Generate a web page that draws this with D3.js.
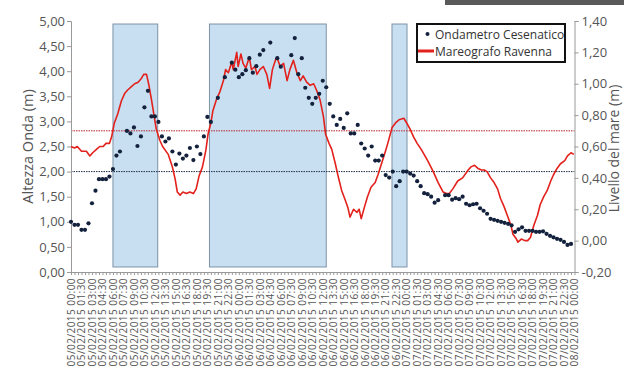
<!DOCTYPE html>
<html><head><meta charset="utf-8">
<script src="https://cdn.jsdelivr.net/npm/d3@7"></script>
<style>
body{margin:0;background:#fff}
svg{display:block}
text{font-family:"Open Sans",sans-serif}
</style>
</head><body>
<svg id="c" width="624" height="377"></svg>
<script>
// ---- data ----
// Ondametro Cesenatico: wave height (m), every 30 minutes from 05/02/2015 00:00 (null = missing)
const waveHeight = [
 1.00,0.94,0.94,0.84,0.84,0.97,1.37,1.62,1.85,1.85,1.85,1.90,2.05,2.32,2.40,null,
 2.81,2.76,2.88,2.51,2.70,3.28,3.61,3.10,3.10,2.99,2.70,2.60,2.66,2.40,2.14,2.36,
 2.26,2.32,2.47,2.23,2.50,2.35,2.70,3.09,2.99,null,3.47,null,3.88,null,4.17,4.03,
 3.88,3.94,4.02,4.26,3.97,4.10,4.33,4.42,null,4.57,null,4.26,4.09,null,null,4.32,
 4.66,3.94,4.26,3.67,3.47,3.35,3.47,3.55,3.81,3.68,3.35,3.10,2.93,3.05,2.87,3.16,
 2.76,2.76,2.93,2.56,2.46,2.32,2.50,2.22,2.22,2.32,1.93,1.88,2.00,1.71,1.81,2.00,
 2.00,1.96,1.92,1.81,1.71,1.57,1.55,1.50,1.38,1.43,null,1.53,1.53,1.44,1.47,1.45,
 1.50,1.36,1.33,1.35,1.36,1.27,1.22,1.16,1.06,1.04,1.02,1.00,0.98,0.96,0.93,0.80,
 0.85,0.89,0.82,0.82,0.82,0.80,0.80,0.81,0.76,0.72,0.69,0.66,0.64,0.60,0.54,0.56
];
// Mareografo Ravenna: sea level (m), hours since 05/02/2015 00:00
const seaHours = [
 0.0,0.5,0.9,1.5,2.2,2.7,3.1,3.6,4.1,4.6,5.0,5.5,5.8,6.2,6.7,7.2,7.7,8.1,8.6,9.1,9.6,10.0,10.4,10.8,11.1,11.5,11.9,12.2,12.7,13.1,13.9,
 14.5,14.9,15.2,15.6,16.0,16.5,17.0,17.5,17.9,18.3,18.8,19.3,19.6,20.0,20.3,20.8,21.3,21.8,22.1,22.5,23.0,23.2,23.7,23.9,24.3,24.6,
 25.0,25.5,25.8,26.3,26.6,27.0,27.5,28.0,28.4,28.8,29.3,29.6,29.9,30.4,30.9,31.3,31.8,32.3,32.8,33.2,33.7,34.2,34.7,35.1,35.6,36.1,
 36.4,36.9,37.3,37.8,38.2,38.7,39.2,39.6,39.9,40.4,40.9,41.2,41.5,42.0,42.4,42.9,43.5,43.9,44.4,44.9,45.3,45.9,46.4,46.9,47.6,48.0,
 48.5,49.0,49.5,50.1,51.0,51.8,52.5,53.2,53.7,54.1,54.6,55.3,56.0,56.8,57.2,57.7,58.2,58.7,59.1,59.5,60.0,60.5,61.0,61.4,61.9,62.4,
 62.9,63.2,63.7,63.9,64.4,64.9,65.3,65.7,66.2,66.7,67.1,67.6,68.1,68.6,69.0,69.5,70.0,70.6,71.0,71.5,71.9
];
const seaLevel = [
 0.60,0.59,0.60,0.57,0.57,0.54,0.56,0.58,0.60,0.60,0.62,0.62,0.66,0.75,0.81,0.89,0.94,0.96,0.98,1.00,1.01,1.03,1.06,1.06,1.00,0.90,0.79,0.71,0.64,0.60,0.55,
 0.47,0.39,0.31,0.29,0.31,0.30,0.31,0.30,0.33,0.41,0.47,0.58,0.68,0.75,0.83,0.90,0.95,1.02,1.09,1.07,1.14,1.09,1.20,1.11,1.19,1.13,
 1.10,1.17,1.09,1.11,1.06,1.09,1.11,1.06,0.97,1.09,1.16,1.15,1.11,1.13,1.02,1.09,1.15,1.07,1.02,1.05,1.01,0.99,1.00,0.96,0.90,0.79,
 0.68,0.62,0.58,0.49,0.41,0.32,0.26,0.21,0.15,0.20,0.18,0.20,0.14,0.22,0.28,0.34,0.37,0.42,0.49,0.56,0.62,0.72,0.75,0.77,0.78,0.75,
 0.71,0.66,0.62,0.58,0.51,0.44,0.37,0.31,0.30,0.30,0.33,0.38,0.40,0.45,0.47,0.48,0.46,0.45,0.45,0.44,0.40,0.37,0.33,0.27,0.22,0.16,
 0.10,0.04,0.01,-0.01,0.01,0.00,0.00,0.02,0.10,0.16,0.23,0.28,0.32,0.38,0.42,0.46,0.49,0.51,0.54,0.56,0.55
];
// highlighted periods (hours since 05/02/2015 00:00)
const periodStart = [6.0, 19.8, 45.9];
const periodEnd   = [12.4, 36.5, 48.05];
const waveThreshold = 2.00;   // m, left axis
const seaThreshold  = 0.70;   // m, right axis
const leftTicks  = [0,0.5,1,1.5,2,2.5,3,3.5,4,4.5,5];
const rightTicks = [-0.2,0,0.2,0.4,0.6,0.8,1.0,1.2,1.4];
const xTickLabels = [
 "05/02/2015 00:00","05/02/2015 01:30","05/02/2015 03:00","05/02/2015 04:30","05/02/2015 06:00","05/02/2015 07:30",
 "05/02/2015 09:00","05/02/2015 10:30","05/02/2015 12:00","05/02/2015 13:30","05/02/2015 15:00","05/02/2015 16:30",
 "05/02/2015 18:00","05/02/2015 19:30","05/02/2015 21:00","05/02/2015 22:30","06/02/2015 00:00","06/02/2015 01:30",
 "06/02/2015 03:00","06/02/2015 04:30","06/02/2015 06:00","06/02/2015 07:30","06/02/2015 09:00","06/02/2015 10:30",
 "06/02/2015 12:00","06/02/2015 13:30","06/02/2015 15:00","06/02/2015 16:30","06/02/2015 18:00","06/02/2015 19:30",
 "06/02/2015 21:00","06/02/2015 22:30","07/02/2015 00:00","07/02/2015 01:30","07/02/2015 03:00","07/02/2015 04:30",
 "07/02/2015 06:00","07/02/2015 07:30","07/02/2015 09:00","07/02/2015 10:30","07/02/2015 12:00","07/02/2015 13:30",
 "07/02/2015 15:00","07/02/2015 16:30","07/02/2015 18:00","07/02/2015 19:30","07/02/2015 21:00","07/02/2015 22:30",
 "08/02/2015 00:00"
];
const seriesNames = ["Ondametro Cesenatico","Mareografo Ravenna"];
const leftTitle = "Altezza Onda (m)";
const rightTitle = "Livello del mare (m)";

// ---- drawing ----
const svg = d3.select("#c");
const L = 71, R = 574.5, T = 21, B = 272;
const x = d3.scaleLinear().domain([0,72]).range([L,R]);
const yL = d3.scaleLinear().domain([0,5]).range([B,T]);
const yR = d3.scaleLinear().domain([-0.2,1.4]).range([B,T]);
const it = d3.formatLocale({decimal:",",thousands:".",grouping:[3],currency:["€",""],minus:"-"});
const fmt = it.format(".2f");

// photo artefact band at top-right
svg.append("rect").attr("x",445).attr("y",0).attr("width",179).attr("height",5).attr("fill","#5a5a5a");

// periods
svg.append("g").selectAll("rect").data(periodStart).join("rect")
  .attr("x",(d)=>x(d)).attr("width",(d,i)=>x(periodEnd[i])-x(d))
  .attr("y",yL(4.94)).attr("height",yL(0.1)-yL(4.94))
  .attr("fill","#c8dff1").attr("stroke","#7d93a8").attr("stroke-width",1);

// threshold lines
svg.append("line").attr("x1",L).attr("x2",R).attr("y1",yR(seaThreshold)).attr("y2",yR(seaThreshold))
  .attr("stroke","#b8232a").attr("stroke-width",1).attr("stroke-dasharray","1.5,1");
svg.append("line").attr("x1",L).attr("x2",R).attr("y1",yL(waveThreshold)).attr("y2",yL(waveThreshold))
  .attr("stroke","#1c2b4a").attr("stroke-width",1).attr("stroke-dasharray","1.5,1");

// axes
const axCol = "#999";
const gl = svg.append("g").attr("transform",`translate(${L},0)`)
  .call(d3.axisLeft(yL).tickValues(leftTicks).tickFormat(fmt).tickSize(4).tickPadding(2));
const gr = svg.append("g").attr("transform",`translate(${R},0)`)
  .call(d3.axisRight(yR).tickValues(rightTicks).tickFormat(fmt).tickSize(4).tickPadding(3));
const halfHours = d3.range(0,72.01,0.5);
const gb = svg.append("g").attr("transform",`translate(0,${B})`)
  .call(d3.axisBottom(x).tickValues(halfHours).tickFormat("").tickSize(3).tickSizeOuter(0));
[gl,gr,gb].forEach(g=>{
  g.select(".domain").attr("stroke",axCol);
  g.selectAll(".tick line").attr("stroke",axCol);
  g.selectAll(".tick text").attr("fill","#555").style("font-family","'Open Sans',sans-serif").style("font-size","13px");
});

// x labels
svg.append("g").selectAll("text").data(xTickLabels).join("text")
  .attr("transform",(d,i)=>`translate(${x(i*1.5)+3.8},${B+6}) rotate(-90)`)
  .attr("text-anchor","end").attr("fill","#555")
  .style("font-size","10px").style("letter-spacing","0.45px")
  .text(d=>d);

// axis titles
svg.append("text").attr("transform",`translate(33,${(T+B)/2}) rotate(-90)`)
  .attr("text-anchor","middle").attr("fill","#555").style("font-size","14.5px").text(leftTitle);
svg.append("text").attr("transform",`translate(619,${(T+B)/2+2}) rotate(-90)`)
  .attr("text-anchor","middle").attr("fill","#555").style("font-size","14px").text(rightTitle);

// sea level line
const line = d3.line().x((d,i)=>x(seaHours[i])).y(d=>yR(d));
svg.append("path").datum(seaLevel).attr("d",line)
  .attr("fill","none").attr("stroke","#e3211c").attr("stroke-width",1.6).attr("stroke-linejoin","round");

// wave dots
svg.append("g").selectAll("circle").data(waveHeight.map((v,i)=>({h:i*0.5,v})).filter(d=>d.v!==null)).join("circle")
  .attr("cx",d=>x(d.h)).attr("cy",d=>yL(d.v)).attr("r",2.1).attr("fill","#14213d");

// legend
const lg = svg.append("g");
lg.append("rect").attr("x",417).attr("y",24).attr("width",148).attr("height",38)
  .attr("fill","#fff").attr("stroke","#111").attr("stroke-width",2);
lg.append("circle").attr("cx",427.5).attr("cy",34).attr("r",2).attr("fill","#14213d");
lg.append("line").attr("x1",418).attr("x2",434).attr("y1",51).attr("y2",51).attr("stroke","#e3211c").attr("stroke-width",3);
lg.selectAll("text.lt").data(seriesNames).join("text").attr("class","lt")
  .attr("x",435).attr("y",(d,i)=>38.5+i*17.5).attr("fill","#333").style("font-size","12px").text(d=>d);
</script>
</body></html>
